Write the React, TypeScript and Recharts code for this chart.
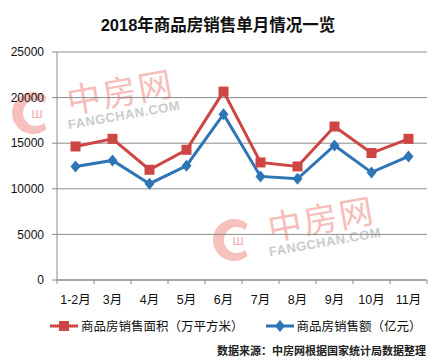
import React from 'react';
import { LineChart, Line, XAxis, YAxis, CartesianGrid } from 'recharts';

const categories = ['1-2月', '3月', '4月', '5月', '6月', '7月', '8月', '9月', '10月', '11月'];
const areaValues = [14640, 15480, 12090, 14280, 20660, 12890, 12450, 16830, 13920, 15480];
const salesValues = [12450, 13110, 10560, 12530, 18180, 11360, 11100, 14750, 11800, 13550];
const yTicks = [0, 5000, 10000, 15000, 20000, 25000];
const seriesNames = ['商品房销售面积（万平方米）', '商品房销售额（亿元）'];

const RED = '#cd4643';
const BLUE = '#2e75b6';
const FONT = '"Liberation Sans", Arial, "Noto Sans CJK SC", sans-serif';

const data = categories.map((name, i) => ({
  x: i + 0.5,
  name,
  area: areaValues[i],
  sales: salesValues[i],
}));

const boundaryTicks = categories.map((_, i) => i).concat([categories.length]);
const centerTicks = categories.map((_, i) => i + 0.5);

const SquareDot = (props: any) => {
  const { cx, cy, index } = props;
  if (cx == null || cy == null) return null;
  return <rect key={`sq-${index}`} x={cx - 5} y={cy - 5} width={10} height={10} fill={RED} />;
};

const DiamondDot = (props: any) => {
  const { cx, cy, index } = props;
  if (cx == null || cy == null) return null;
  return (
    <polygon
      key={`dm-${index}`}
      points={`${cx},${cy - 6} ${cx + 5},${cy} ${cx},${cy + 6} ${cx - 5},${cy}`}
      fill={BLUE}
    />
  );
};

const Watermark = ({ lx, ly, r, tx, ty, fx, fy }: any) => {
  const a1 = (-50 * Math.PI) / 180;
  const a2 = (50 * Math.PI) / 180;
  const ro = r;
  const ri = r - 8;
  const p = `M ${lx + ro * Math.cos(a1)} ${ly + ro * Math.sin(a1)}
    A ${ro} ${ro} 0 1 0 ${lx + ro * Math.cos(a2)} ${ly + ro * Math.sin(a2)}
    L ${lx + ri * Math.cos(a2) + 3} ${ly + ri * Math.sin(a2)}
    A ${ri} ${ri} 0 1 1 ${lx + ri * Math.cos(a1) + 3} ${ly + ri * Math.sin(a1)} Z`;
  return (
    <g>
      <path d={p} fill="#f6c0bc" />
      <text x={lx + 4} y={ly + 5} fontSize={14} fill="#f3b1ad" textAnchor="middle" fontFamily={FONT}>
        ш
      </text>
      <text
        x={tx}
        y={ty}
        fontSize={34}
        fill="#f6bdb9"
        textAnchor="middle"
        dominantBaseline="central"
        fontFamily='"Noto Sans CJK SC", sans-serif'
        letterSpacing={2}
        transform={`rotate(-10 ${tx} ${ty})`}
      >
        中房网
      </text>
      <text
        x={fx}
        y={fy}
        fontSize={13}
        fill="#cbcbcb"
        textAnchor="middle"
        dominantBaseline="central"
        fontFamily={FONT}
        fontWeight={700}
        letterSpacing={0.5}
        transform={`rotate(-10 ${fx} ${fy})`}
      >
        FANGCHAN.COM
      </text>
    </g>
  );
};

export default function App() {
  return (
    <div
      style={{
        position: 'absolute',
        left: 0,
        top: 0,
        width: 436,
        height: 362,
        background: '#fff',
        fontFamily: FONT,
        overflow: 'hidden',
      }}
    >
      <svg width={436} height={362} style={{ position: 'absolute', left: 0, top: 0 }}>
        <Watermark lx={33} ly={113} r={21} tx={120} ty={90} fx={124} fy={115} />
        <Watermark lx={234} ly={240} r={21} tx={321} ty={217} fx={325} fy={242} />
      </svg>
      <div
        style={{
          position: 'absolute',
          left: 0,
          top: 12,
          width: 436,
          textAlign: 'center',
          fontSize: 16.5,
          fontWeight: 700,
          color: '#111',
          fontFamily: FONT,
        }}
      >
        2018年商品房销售单月情况一览
      </div>
      <div style={{ position: 'absolute', left: 0, top: 0 }}>
        <LineChart
          width={436}
          height={362}
          data={data}
          margin={{ top: 52, right: 9, left: 0, bottom: 48 }}
        >
          <CartesianGrid vertical={false} stroke="#8c8c8c" strokeWidth={1} />
          <XAxis
            xAxisId="b"
            type="number"
            dataKey="x"
            domain={[0, categories.length]}
            ticks={boundaryTicks}
            tickFormatter={() => ''}
            stroke="#8c8c8c"
            tickSize={4}
            height={4}
            interval={0}
          />
          <XAxis
            xAxisId="l"
            type="number"
            dataKey="x"
            domain={[0, categories.length]}
            ticks={centerTicks}
            tickFormatter={(v: number) => categories[Math.floor(v)]}
            axisLine={false}
            tickLine={false}
            tickSize={0}
            tickMargin={11}
            height={30}
            interval={0}
            tick={{ fontSize: 12.5, fill: '#111', fontFamily: FONT }}
          />
          <YAxis
            domain={[0, 25000]}
            ticks={yTicks}
            width={57}
            stroke="#8c8c8c"
            tickSize={5}
            tickMargin={8}
            interval={0}
            tick={{ fontSize: 12, fill: '#111', fontFamily: FONT }}
          />
          <Line
            xAxisId="b"
            dataKey="area"
            stroke={RED}
            strokeWidth={3}
            dot={SquareDot}
            activeDot={false}
            isAnimationActive={false}
          />
          <Line
            xAxisId="b"
            dataKey="sales"
            stroke={BLUE}
            strokeWidth={3}
            dot={DiamondDot}
            activeDot={false}
            isAnimationActive={false}
          />
        </LineChart>
      </div>
      <div
        style={{
          position: 'absolute',
          left: 50,
          top: 316,
          display: 'flex',
          alignItems: 'center',
          fontSize: 12.5,
          color: '#111',
          fontFamily: FONT,
        }}
      >
        <svg width={28} height={12} style={{ marginRight: 3 }}>
          <line x1={0} y1={6} x2={28} y2={6} stroke={RED} strokeWidth={3} />
          <rect x={9} y={1} width={10} height={10} fill={RED} />
        </svg>
        <span>{seriesNames[0]}</span>
        <svg width={28} height={12} style={{ marginLeft: 22, marginRight: 3 }}>
          <line x1={0} y1={6} x2={28} y2={6} stroke={BLUE} strokeWidth={3} />
          <polygon points="14,0 19,6 14,12 9,6" fill={BLUE} />
        </svg>
        <span>{seriesNames[1]}</span>
      </div>
      <div
        style={{
          position: 'absolute',
          right: 10,
          top: 342,
          fontSize: 11,
          fontWeight: 700,
          color: '#222',
          fontFamily: FONT,
        }}
      >
        数据来源：中房网根据国家统计局数据整理
      </div>
    </div>
  );
}
